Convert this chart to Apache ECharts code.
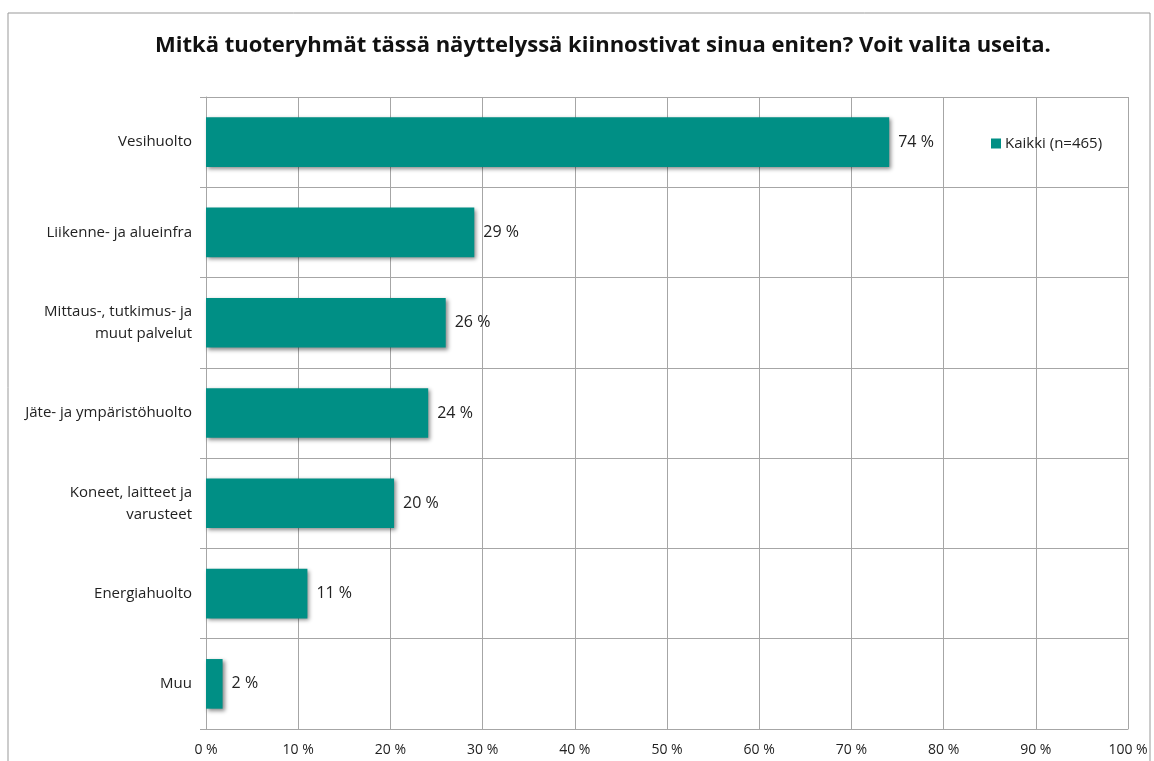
<!DOCTYPE html>
<html>
<head>
<meta charset="utf-8">
<script src="https://cdn.jsdelivr.net/npm/echarts@6/dist/echarts.min.js"></script>
<style>
  html, body { margin: 0; padding: 0; background: #fff; }
  #main { width: 1154px; height: 761px; }
</style>
</head>
<body>
<div id="main"></div>
<script>
// kategoriat (ylhäältä alas)
var categories = [
    'Vesihuolto',
    'Liikenne- ja alueinfra',
    'Mittaus-, tutkimus- ja\nmuut palvelut',
    'Jäte- ja ympäristöhuolto',
    'Koneet, laitteet ja\nvarusteet',
    'Energiahuolto',
    'Muu'
];
// osuudet prosentteina
var values = [74.1, 29.1, 26.0, 24.1, 20.4, 11.0, 1.8];
var seriesName = 'Kaikki (n=465)';
var titleText = 'Mitkä tuoteryhmät tässä näyttelyssä kiinnostivat sinua eniten? Voit valita useita.';

var font = 'Open Sans';
var myChart = echarts.init(document.getElementById('main'));
var option = {
    backgroundColor: '#fff',
    animation: false,
    title: {
        text: titleText,
        left: 150,
        top: 30,
        textStyle: { fontFamily: font, fontSize: 22, fontWeight: 'bold', color: '#111' }
    },
    legend: {
        data: [seriesName],
        left: 986,
        top: 131,
        icon: 'rect',
        itemWidth: 10,
        itemHeight: 10,
        itemGap: 4,
        textStyle: { fontFamily: font, fontSize: 15, color: '#222', padding: [0, 0, 0, -1] }
    },
    graphic: [{
        type: 'rect',
        shape: { x: 8, y: 13, width: 1142, height: 800 },
        style: { fill: 'none', stroke: '#999', lineWidth: 1 },
        silent: true
    }],
    grid: {
        left: 206,
        right: 26,
        top: 97,
        bottom: 32
    },
    xAxis: {
        type: 'value',
        min: 0,
        max: 100,
        interval: 10,
        axisLine: { show: true, lineStyle: { color: '#a6a6a6' } },
        axisTick: { show: false },
        splitLine: { show: true, lineStyle: { color: '#a6a6a6' } },
        axisLabel: {
            formatter: '{value} %',
            fontFamily: font,
            fontSize: 14,
            color: '#222',
            margin: 14
        }
    },
    yAxis: {
        type: 'category',
        inverse: true,
        data: categories,
        axisLine: { show: true, lineStyle: { color: '#a6a6a6' } },
        axisTick: { show: true, length: 6, lineStyle: { color: '#a6a6a6' } },
        splitLine: { show: true, lineStyle: { color: '#a6a6a6' } },
        axisLabel: {
            fontFamily: font,
            fontSize: 15,
            color: '#222',
            margin: 14,
            lineHeight: 22
        }
    },
    series: [{
        name: seriesName,
        type: 'bar',
        data: values,
        barWidth: '55%',
        itemStyle: {
            color: '#008f85',
            shadowColor: 'rgba(0,0,0,0.45)',
            shadowBlur: 4,
            shadowOffsetX: 2,
            shadowOffsetY: 2
        },
        label: {
            show: true,
            position: 'right',
            distance: 9,
            fontFamily: font,
            fontSize: 16,
            color: '#222',
            formatter: function (p) { return Math.round(p.value) + ' %'; }
        }
    }]
};
myChart.setOption(option);
</script>
</body>
</html>
